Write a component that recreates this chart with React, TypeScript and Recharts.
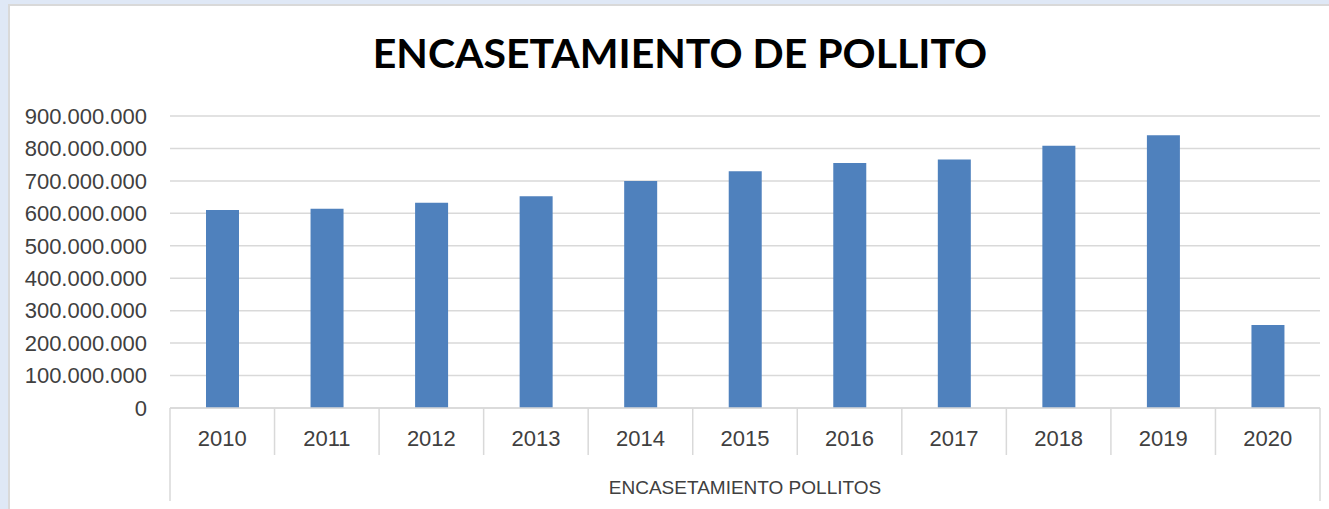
import { BarChart, Bar, XAxis, YAxis, CartesianGrid } from 'recharts'

const years = ['2010', '2011', '2012', '2013', '2014', '2015', '2016', '2017', '2018', '2019', '2020']
const pollitos = [610000000, 614000000, 633000000, 653000000, 700000000, 730000000, 755000000, 766000000, 808000000, 841000000, 256000000]
const yTicks = [0, 100000000, 200000000, 300000000, 400000000, 500000000, 600000000, 700000000, 800000000, 900000000]
const title = 'ENCASETAMIENTO DE POLLITO'
const groupLabel = 'ENCASETAMIENTO POLLITOS'

const data = years.map((year, i) => ({ year, value: pollitos[i] }))

const FONT = '"Liberation Sans", Arial, sans-serif'
const TITLE_FONT = 'Lato, "Liberation Sans", sans-serif'
const TEXT = '#404040'
const LINE = '#d9d9d9'
const W = 1329
const H = 509
const PLOT_LEFT = 170
const PLOT_RIGHT = 1320
const BAND = (PLOT_RIGHT - PLOT_LEFT) / years.length

const formatMillions = (v: number) => String(v).replace(/\B(?=(\d{3})+(?!\d))/g, '.')

function YearTick(props: any) {
  const { x, y, payload, index } = props
  const last = index === years.length - 1
  return (
    <g>
      <line x1={x - BAND / 2} y1={y} x2={x - BAND / 2} y2={y + (index === 0 ? 93 : 47)} stroke={LINE} strokeWidth={1.5} />
      {last && <line x1={x + BAND / 2} y1={y} x2={x + BAND / 2} y2={y + 93} stroke={LINE} strokeWidth={1.5} />}
      <text x={x} y={y + 38} textAnchor="middle" fill={TEXT} fontSize={22} fontFamily={FONT}>
        {payload.value}
      </text>
    </g>
  )
}

export default function App() {
  return (
    <div style={{ position: 'absolute', left: 0, top: 0, width: W, height: H, background: '#dfe8f6', overflow: 'hidden' }}>
      <div
        style={{
          position: 'absolute',
          left: 8,
          top: 4,
          width: W,
          height: H,
          background: '#fff',
          borderTop: `2px solid ${LINE}`,
          borderLeft: `2px solid ${LINE}`,
        }}
      />
      <svg width={W} height={H} style={{ position: 'absolute', left: 0, top: 0 }}>
        <text x={680} y={68} textAnchor="middle" fontFamily={TITLE_FONT} fontWeight="bold" fontSize={41} fill="#000">
          {title}
        </text>
      </svg>
      <div style={{ position: 'absolute', left: 0, top: 0 }}>
        <BarChart width={W} height={H} data={data} margin={{ top: 116, right: W - PLOT_RIGHT, bottom: 0, left: 0 }}>
          <CartesianGrid vertical={false} stroke={LINE} strokeWidth={1.5} />
          <YAxis
            width={PLOT_LEFT}
            domain={[0, 900000000]}
            ticks={yTicks}
            tickFormatter={formatMillions}
            axisLine={false}
            tickLine={false}
            tickSize={0}
            tickMargin={23}
            tick={{ fill: TEXT, fontSize: 22, fontFamily: FONT }}
          />
          <XAxis
            dataKey="year"
            height={101}
            axisLine={{ stroke: LINE, strokeWidth: 1.5 }}
            tickLine={false}
            tickSize={0}
            tickMargin={0}
            interval={0}
            tick={<YearTick />}
            label={{ value: groupLabel, position: 'insideBottom', offset: 15, fill: TEXT, fontSize: 19, fontFamily: FONT }}
          />
          <Bar dataKey="value" fill="#4f81bd" barSize={33} isAnimationActive={false} />
        </BarChart>
      </div>
    </div>
  )
}
